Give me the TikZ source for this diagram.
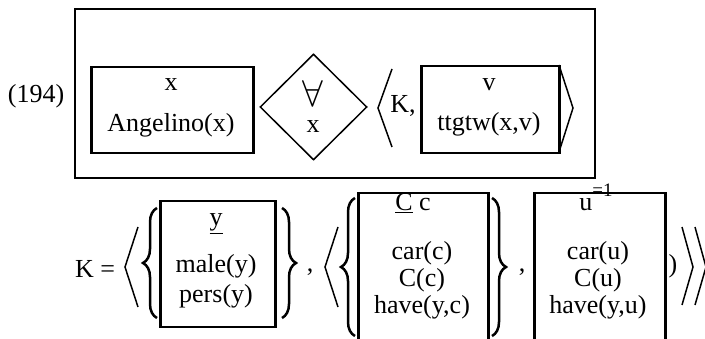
\documentclass[tikz,border=0pt]{standalone}
\usepackage{fontspec}
\setmainfont{Liberation Serif}
\usetikzlibrary{shapes.geometric, positioning, decorations.pathreplacing}

\begin{document}
\begin{tikzpicture}[
  x=1pt, y=-1pt,
  every node/.style={font=\fontsize{26}{30}\selectfont, inner sep=0pt},
  txt/.style={anchor=base},
  drsbox/.style={draw, line width=2.5pt, anchor=north west},
  outerbox/.style={draw, line width=2pt, anchor=north west},
  cond/.style={diamond, draw, line width=1.5pt},
  angle/.style={line width=1.5pt},
  curly/.style={decorate, decoration={brace, amplitude=14pt}, line width=2.5pt}
]
\useasboundingbox (0,0) rectangle (705,339);
\clip (0,0) rectangle (705,339);

% top line: the numbered DRS
\node[txt] (num) at (36,103) {(194)};
\node[outerbox, minimum width=520pt, minimum height=169pt] (drs) at (74,8) {};
\node[drsbox, minimum width=162pt, minimum height=86pt] (angelino) at (90,66) {};
\node[txt] (angref) at (171,91) {x};
\node[txt] (angcond) at (171,132) {Angelino(x)};
\node[cond, minimum width=107pt, minimum height=106pt] (forall) at (313.5,107) {};
\node[txt] (quant) at (313,107) {\scalebox{1.5}{$\forall$}};
\node[txt] (quantvar) at (313,133) {x};
\draw[angle] (392,69) -- (378,108) -- (392,147);
\node[txt] (kcomma) at (403,113) {K,};
\node[drsbox, minimum width=138pt, minimum height=87pt] (ttgtw) at (420,65) {};
\node[txt] (ttref) at (489,91) {v};
\node[txt] (ttcond) at (489,131) {ttgtw(x,v)};
\draw[angle] (559,65) -- (573,108) -- (559,152);

% bottom line: K
\node[txt] (keq) at (95,278) {K =};
\draw[angle] (138,227) -- (125,267) -- (138,307);
\draw[curly] (157,318) -- (157,208);
\node[drsbox, minimum width=115pt, minimum height=126pt] (male) at (159,200) {};
\node[txt] (yref) at (216,226) {\underline{y}};
\node[txt] (ymale) at (216,273) {male(y)};
\node[txt] (ypers) at (216,303) {pers(y)};
\draw[curly] (282,208) -- (282,318);
\node[txt] (comma1) at (310,272) {,};
\draw[angle] (338,227) -- (325,267) -- (338,307);
\draw[curly] (355,336) -- (355,198);
\node[drsbox, minimum width=130pt, minimum height=150pt] (cars) at (357,192) {};
\node[txt] (cref) at (413,211) {\underline{C} c};
\node[txt] (ccar) at (422,260) {car(c)};
\node[txt] (cc) at (422,287) {C(c)};
\node[txt] (chave) at (422,314) {have(y,c)};
\draw[curly] (492,198) -- (492,336);
\node[txt] (comma2) at (522,272) {,};
\node[drsbox, minimum width=131pt, minimum height=150pt] (onecar) at (533,192) {};
\node[txt] (uref) at (596,211) {u\raisebox{1.2ex}{\fontsize{19}{19}\selectfont =1}};
\node[txt] (ucar) at (598,260) {car(u)};
\node[txt] (uc) at (598,287) {C(u)};
\node[txt] (uhave) at (598,314) {have(y,u)};
\node[txt] (rparen) at (673,273) {)};
\draw[angle] (682,227) -- (693,267) -- (682,305);
\draw[angle] (695,227) -- (706,267) -- (695,305);
\end{tikzpicture}
\end{document}
